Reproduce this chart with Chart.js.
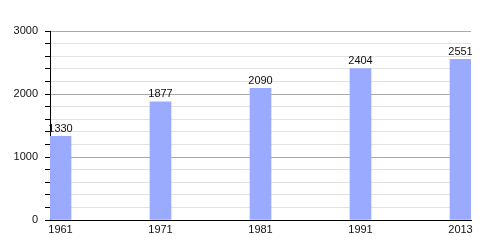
<!DOCTYPE html>
<html>
<head>
<meta charset="utf-8">
<script src="https://cdn.jsdelivr.net/npm/chart.js@4"></script>
<style>
  html, body { margin: 0; padding: 0; background: #fff; }
  #wrap { width: 500px; height: 250px; }
</style>
</head>
<body>
<div id="wrap"><canvas id="chart"></canvas></div>
<script>
// Population by census year
const years = ['1961', '1971', '1981', '1991', '2013'];
const population = [1330, 1877, 2090, 2404, 2551];
const yTicks = [0, 1000, 2000, 3000];

// value labels above each bar
const valueLabels = {
  id: 'valueLabels',
  afterDatasetsDraw(chart) {
    const ctx = chart.ctx;
    const meta = chart.getDatasetMeta(0);
    ctx.save();
    ctx.font = '11px "Liberation Sans", Arial, sans-serif';
    ctx.fillStyle = '#111';
    ctx.textAlign = 'center';
    ctx.textBaseline = 'bottom';
    meta.data.forEach((bar, i) => {
      ctx.fillText(String(population[i]), bar.x, bar.y - 2);
    });
    ctx.restore();
  }
};

new Chart(document.getElementById('chart').getContext('2d'), {
  type: 'bar',
  data: {
    datasets: [{
      data: population.map((v, i) => ({ x: i, y: v })),
      backgroundColor: '#99aaff',
      borderWidth: 0,
      barThickness: 21
    }]
  },
  options: {
    responsive: true,
    maintainAspectRatio: false,
    animation: false,
    layout: {
      padding: { top: 31, right: 29, bottom: 0, left: 0 }
    },
    plugins: {
      legend: { display: false },
      tooltip: { enabled: false }
    },
    scales: {
      x: {
        type: 'linear',
        offset: false,
        min: -0.105,
        max: years.length - 1 + 0.105,
        afterBuildTicks: function(scale) {
          scale.ticks = years.map((_, i) => ({ value: i }));
        },
        afterFit: function(scale) {
          scale.height = 30;
        },
        grid: { display: false, drawTicks: false, offset: false },
        border: { display: true, color: '#000', width: 1 },
        ticks: {
          color: '#111',
          padding: 3,
          maxRotation: 0,
          autoSkip: false,
          font: { family: '"Liberation Sans", Arial, sans-serif', size: 11 },
          callback: function(value) {
            return years[value] !== undefined ? years[value] : '';
          }
        }
      },
      y: {
        min: 0,
        max: 3000,
        afterFit: function(scale) {
          scale.width = 50;
        },
        grid: {
          color: function(context) {
            return context.tick.value % 1000 === 0 ? '#aaaaaa' : '#e2e2e2';
          },
          tickColor: '#000',
          tickLength: 5,
          lineWidth: 1
        },
        border: { display: true, color: '#000', width: 1 },
        ticks: {
          stepSize: 200,
          color: '#111',
          padding: 7,
          autoSkip: false,
          font: { family: '"Liberation Sans", Arial, sans-serif', size: 11 },
          callback: function(value) {
            return yTicks.includes(value) ? String(value) : '';
          }
        }
      }
    }
  },
  plugins: [valueLabels]
});
</script>
</body>
</html>
